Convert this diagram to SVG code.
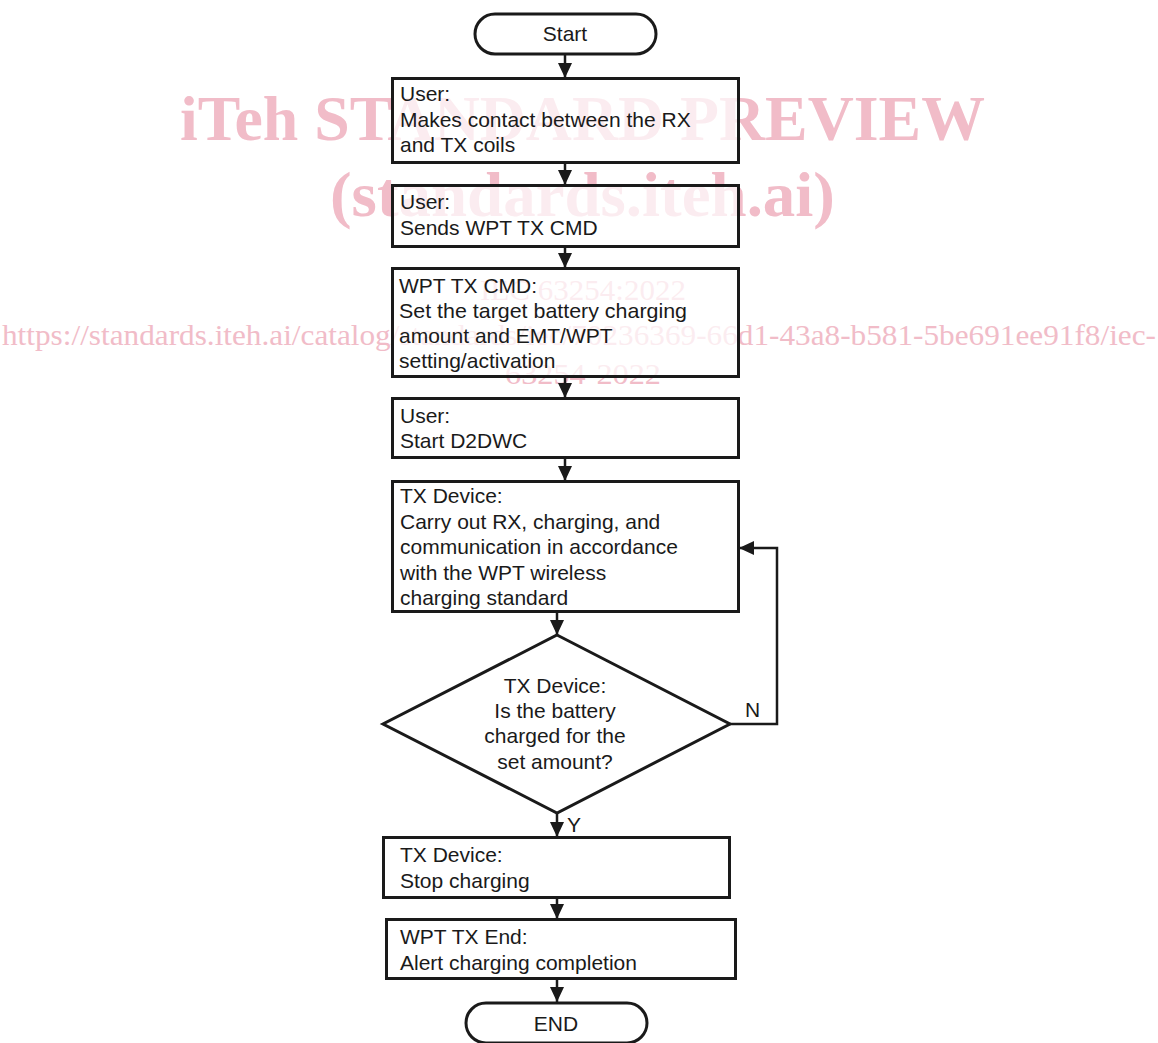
<svg xmlns="http://www.w3.org/2000/svg" width="1158" height="1043" viewBox="0 0 1158 1043">
<style>
.wm{font-family:"Liberation Serif","Times New Roman",serif;fill:#f1bcc8}
.wmb{font-weight:bold}
.box{fill:#ffffff;fill-opacity:0.72;stroke:#1a1a1a;stroke-width:3}
.t{font-family:"Liberation Sans",Arial,sans-serif;font-size:21px;fill:#1a1a1a}
.c{text-anchor:middle}
.con{fill:none;stroke:#1a1a1a;stroke-width:2.5}
</style>
<defs>
<marker id="ah" markerUnits="userSpaceOnUse" markerWidth="16" markerHeight="14" viewBox="0 0 16 14" refX="15" refY="7" orient="auto">
<path d="M0,0 L15,7 L0,14 Z" fill="#1a1a1a"/>
</marker>
</defs>
<rect width="1158" height="1043" fill="#ffffff"/>
<g id="watermark">
<text class="wm wmb" x="180" y="140" font-size="63" textLength="805" lengthAdjust="spacingAndGlyphs">iTeh STANDARD PREVIEW</text>
<text class="wm wmb" x="330" y="216" font-size="63" textLength="505" lengthAdjust="spacingAndGlyphs">(standards.iteh.ai)</text>
<text class="wm" x="480" y="300" font-size="30" textLength="206" lengthAdjust="spacingAndGlyphs">IEC 63254:2022</text>
<text class="wm" x="2" y="345" font-size="30" textLength="1154" lengthAdjust="spacingAndGlyphs">https://standards.iteh.ai/catalog/standards/iec/70236369-66d1-43a8-b581-5be691ee91f8/iec-</text>
<text class="wm" x="505" y="384" font-size="30" textLength="156" lengthAdjust="spacingAndGlyphs">63254-2022</text>
</g>
<g id="connectors">
<path class="con" d="M565,54 V78" marker-end="url(#ah)"/>
<path class="con" d="M565,163 V185" marker-end="url(#ah)"/>
<path class="con" d="M565,247 V268" marker-end="url(#ah)"/>
<path class="con" d="M565,377 V398" marker-end="url(#ah)"/>
<path class="con" d="M565,458 V481" marker-end="url(#ah)"/>
<path class="con" d="M557,612 V635" marker-end="url(#ah)"/>
<path class="con" d="M730,724 H777 V548 H739" marker-end="url(#ah)"/>
<path class="con" d="M557,813 V837" marker-end="url(#ah)"/>
<path class="con" d="M557,898 V919" marker-end="url(#ah)"/>
<path class="con" d="M557,979 V1002" marker-end="url(#ah)"/>
<text class="t" x="745" y="717">N</text>
<text class="t" x="567" y="832">Y</text>
</g>
<g id="start">
<rect class="box" x="475" y="14" width="181" height="40" rx="20" ry="20"/>
<text class="t c" x="565" y="41">Start</text>
</g>
<g id="user-contact">
<rect class="box" x="392.5" y="78.5" width="346" height="84"/>
<text class="t" x="400" y="101">User:</text>
<text class="t" x="400" y="127">Makes contact between the RX</text>
<text class="t" x="400" y="152">and TX coils</text>
</g>
<g id="user-send">
<rect class="box" x="392.5" y="185.5" width="346" height="61"/>
<text class="t" x="400" y="209">User:</text>
<text class="t" x="400" y="235">Sends WPT TX CMD</text>
</g>
<g id="wpt-cmd">
<rect class="box" x="392.5" y="268.5" width="346" height="108"/>
<text class="t" x="399" y="293">WPT TX CMD:</text>
<text class="t" x="399" y="318" textLength="288" lengthAdjust="spacingAndGlyphs">Set the target battery charging</text>
<text class="t" x="399" y="343">amount and EMT/WPT</text>
<text class="t" x="399" y="368">setting/activation</text>
</g>
<g id="user-start">
<rect class="box" x="392.5" y="398.5" width="346" height="59"/>
<text class="t" x="400" y="423">User:</text>
<text class="t" x="400" y="448">Start D2DWC</text>
</g>
<g id="tx-carry">
<rect class="box" x="392.5" y="481.5" width="346" height="130"/>
<text class="t" x="400" y="503">TX Device:</text>
<text class="t" x="400" y="529">Carry out RX, charging, and</text>
<text class="t" x="400" y="554">communication in accordance</text>
<text class="t" x="400" y="580">with the WPT wireless</text>
<text class="t" x="400" y="605">charging standard</text>
</g>
<g id="decision">
<polygon class="box" points="557,635 730,724 557,813 383,724"/>
<text class="t c" x="555" y="693">TX Device:</text>
<text class="t c" x="555" y="718">Is the battery</text>
<text class="t c" x="555" y="743">charged for the</text>
<text class="t c" x="555" y="769">set amount?</text>
</g>
<g id="tx-stop">
<rect class="box" x="383.5" y="837.5" width="346" height="60"/>
<text class="t" x="400" y="862">TX Device:</text>
<text class="t" x="400" y="888">Stop charging</text>
</g>
<g id="wpt-end">
<rect class="box" x="386.5" y="919.5" width="349" height="59"/>
<text class="t" x="400" y="944">WPT TX End:</text>
<text class="t" x="400" y="970">Alert charging completion</text>
</g>
<g id="end">
<rect class="box" x="466" y="1003" width="181" height="40" rx="20" ry="20"/>
<text class="t c" x="556" y="1031">END</text>
</g>
</svg>
